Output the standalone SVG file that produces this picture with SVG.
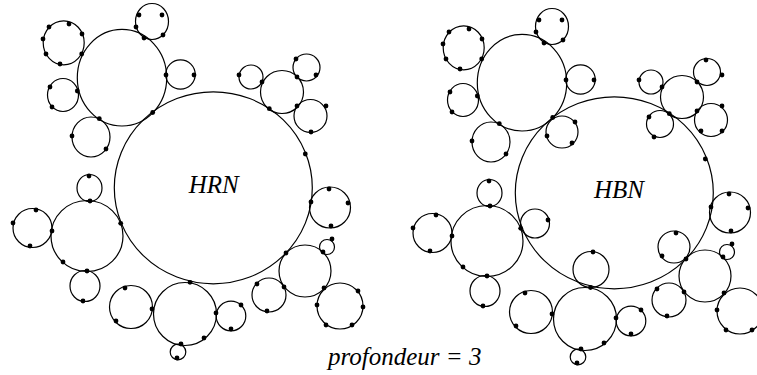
<svg xmlns="http://www.w3.org/2000/svg" width="757" height="375" viewBox="0 0 757 375">
<style>
.c{fill:none;stroke:#000;stroke-width:1.2}
.d{fill:#000}
.t{font-family:"Liberation Serif","Times New Roman",serif;font-style:italic;font-size:25px;fill:#000}
</style>
<defs><circle id="p" r="2.4" class="d"/></defs>
<rect width="757" height="375" fill="#fff"/>
<g id="hrn">
<g id="hrn-big"><ellipse class="c" cx="213.3" cy="187.8" rx="99" ry="96"/><use href="#p" x="305.3" y="154"/><text class="t" x="213.8" y="193.3" text-anchor="middle">HRN</text></g>
<g id="hrn-A"><ellipse class="c" cx="63.7" cy="42.8" rx="20.5" ry="22"/><use href="#p" x="49" y="27"/><use href="#p" x="69" y="24"/><use href="#p" x="82" y="34"/><use href="#p" x="43" y="39"/><use href="#p" x="46" y="54"/><use href="#p" x="81.7" y="54"/><use href="#p" x="60" y="64"/></g>
<g id="hrn-B"><ellipse class="c" cx="152" cy="21.5" rx="16.5" ry="18"/><use href="#p" x="139" y="15"/><use href="#p" x="162" y="15"/><use href="#p" x="136" y="27"/><use href="#p" x="163" y="35"/><use href="#p" x="144" y="38"/></g>
<g id="hrn-C"><ellipse class="c" cx="122" cy="77.7" rx="44.7" ry="48.3"/><use href="#p" x="77.3" y="91"/><use href="#p" x="99.3" y="118.7"/><use href="#p" x="152.7" y="112.5"/><use href="#p" x="166" y="75"/></g>
<g id="hrn-D"><ellipse class="c" cx="63" cy="95" rx="15.5" ry="16.5"/><use href="#p" x="50" y="87"/><use href="#p" x="52" y="107"/></g>
<g id="hrn-E"><ellipse class="c" cx="91" cy="137" rx="19" ry="20"/><use href="#p" x="72" y="136"/><use href="#p" x="106" y="149"/></g>
<g id="hrn-F"><circle class="c" cx="180.5" cy="74.5" r="14.7"/><use href="#p" x="194" y="75"/></g>
<g id="hrn-G"><circle class="c" cx="251" cy="77" r="12"/><use href="#p" x="239" y="75"/><use href="#p" x="262" y="82"/></g>
<g id="hrn-H"><circle class="c" cx="282" cy="92" r="21.5"/><use href="#p" x="269.3" y="108.7"/><use href="#p" x="297" y="77"/><use href="#p" x="297" y="106"/></g>
<g id="hrn-I"><circle class="c" cx="306.5" cy="67.5" r="13.5"/><use href="#p" x="296" y="59"/><use href="#p" x="316" y="75"/></g>
<g id="hrn-J"><circle class="c" cx="310.5" cy="116" r="16.5"/><use href="#p" x="326" y="106"/><use href="#p" x="311" y="132"/></g>
<g id="hrn-K"><circle class="c" cx="330" cy="207.5" r="20.5"/><use href="#p" x="329" y="189"/><use href="#p" x="348" y="203"/><use href="#p" x="311" y="202"/><use href="#p" x="331" y="226"/></g>
<g id="hrn-U"><circle class="c" cx="305" cy="271" r="26"/><use href="#p" x="286" y="253"/><use href="#p" x="323" y="252"/><use href="#p" x="284" y="287"/><use href="#p" x="324" y="288"/></g>
<g id="hrn-V"><circle class="c" cx="327" cy="247" r="7.5"/><use href="#p" x="332" y="239"/></g>
<g id="hrn-W"><circle class="c" cx="340" cy="306" r="23"/><use href="#p" x="358" y="291"/><use href="#p" x="317" y="305"/><use href="#p" x="363" y="307"/><use href="#p" x="326" y="325"/><use href="#p" x="352" y="325"/></g>
<g id="hrn-T"><circle class="c" cx="269" cy="295" r="17"/><use href="#p" x="257" y="284"/><use href="#p" x="267" y="311"/></g>
<g id="hrn-S"><circle class="c" cx="231" cy="316" r="14.8"/><use href="#p" x="216" y="313"/><use href="#p" x="241" y="305"/><use href="#p" x="231" y="329"/></g>
<g id="hrn-Q"><circle class="c" cx="185" cy="314" r="31.5"/><use href="#p" x="190" y="282.3"/><use href="#p" x="204" y="338"/><use href="#p" x="181" y="344"/><use href="#p" x="152" y="309"/></g>
<g id="hrn-R"><circle class="c" cx="178" cy="352" r="7.8"/><use href="#p" x="177" y="358"/></g>
<g id="hrn-P"><circle class="c" cx="131" cy="307" r="21.5"/><use href="#p" x="125" y="288"/><use href="#p" x="116" y="321"/></g>
<g id="hrn-M"><ellipse class="c" cx="87" cy="236" rx="36" ry="35.5"/><use href="#p" x="90" y="201"/><use href="#p" x="52" y="231"/><use href="#p" x="120.7" y="223.3"/><use href="#p" x="63" y="262"/><use href="#p" x="87" y="271"/></g>
<g id="hrn-L"><ellipse class="c" cx="89.5" cy="188" rx="12.5" ry="13.5"/><use href="#p" x="89" y="176"/></g>
<g id="hrn-N"><circle class="c" cx="32.5" cy="228" r="19.5"/><use href="#p" x="36" y="210"/><use href="#p" x="13" y="223"/><use href="#p" x="30" y="246"/></g>
<g id="hrn-O"><ellipse class="c" cx="85" cy="286" rx="15" ry="15.5"/><use href="#p" x="83" y="301"/></g>
</g>
<g id="hbn">
<g id="hbn-big"><ellipse class="c" cx="614.3" cy="192.8" rx="99" ry="96"/><use href="#p" x="705.3" y="159"/><text class="t" x="619" y="198.3" text-anchor="middle">HBN</text></g>
<g id="hbn-A"><ellipse class="c" cx="463.7" cy="47.8" rx="20.5" ry="22"/><use href="#p" x="449" y="32"/><use href="#p" x="469" y="29"/><use href="#p" x="482" y="39"/><use href="#p" x="443" y="44"/><use href="#p" x="446" y="59"/><use href="#p" x="481.7" y="59"/><use href="#p" x="460" y="69"/></g>
<g id="hbn-B"><ellipse class="c" cx="552" cy="26.5" rx="16.5" ry="18"/><use href="#p" x="539" y="20"/><use href="#p" x="562" y="20"/><use href="#p" x="536" y="32"/><use href="#p" x="563" y="40"/><use href="#p" x="544" y="43"/></g>
<g id="hbn-C"><ellipse class="c" cx="522" cy="82.7" rx="44.7" ry="48.3"/><use href="#p" x="477.3" y="96"/><use href="#p" x="499.3" y="123.7"/><use href="#p" x="552.7" y="117.5"/><use href="#p" x="566" y="80"/></g>
<g id="hbn-D"><ellipse class="c" cx="463" cy="100" rx="15.5" ry="16.5"/><use href="#p" x="450" y="92"/><use href="#p" x="452" y="112"/></g>
<g id="hbn-E"><ellipse class="c" cx="491" cy="142" rx="19" ry="20"/><use href="#p" x="472" y="141"/><use href="#p" x="506" y="154"/></g>
<g id="hbn-F"><circle class="c" cx="580.5" cy="79.5" r="14.7"/><use href="#p" x="594" y="80"/></g>
<g id="hbn-X"><circle class="c" cx="562" cy="132" r="16"/><use href="#p" x="575" y="122"/><use href="#p" x="547" y="136"/><use href="#p" x="572" y="143"/></g>
<g id="hbn-G"><circle class="c" cx="651" cy="82" r="12"/><use href="#p" x="639" y="80"/><use href="#p" x="662" y="87"/></g>
<g id="hbn-H"><circle class="c" cx="682" cy="97" r="21.5"/><use href="#p" x="669.3" y="113.7"/><use href="#p" x="697" y="82"/><use href="#p" x="697" y="111"/></g>
<g id="hbn-I"><circle class="c" cx="707" cy="72" r="13.5"/><use href="#p" x="706" y="60"/><use href="#p" x="722" y="75"/></g>
<g id="hbn-J"><circle class="c" cx="711" cy="120" r="16.5"/><use href="#p" x="722" y="106"/><use href="#p" x="701" y="131"/><use href="#p" x="722" y="131"/></g>
<g id="hbn-Y"><circle class="c" cx="660" cy="124" r="13.5"/><use href="#p" x="649" y="117"/><use href="#p" x="654" y="137"/></g>
<g id="hbn-K"><circle class="c" cx="730" cy="212.5" r="20.5"/><use href="#p" x="729" y="194"/><use href="#p" x="748" y="208"/><use href="#p" x="711" y="207"/><use href="#p" x="731" y="231"/></g>
<g id="hbn-BB"><circle class="c" cx="674" cy="247" r="16"/><use href="#p" x="676" y="233"/><use href="#p" x="662" y="256"/><use href="#p" x="686" y="259"/></g>
<g id="hbn-U"><circle class="c" cx="705" cy="276" r="26"/><use href="#p" x="723" y="257"/><use href="#p" x="684" y="292"/><use href="#p" x="724" y="293"/></g>
<g id="hbn-V"><circle class="c" cx="727" cy="252" r="7.5"/><use href="#p" x="732" y="244"/></g>
<g id="hbn-W"><circle class="c" cx="740" cy="311" r="23"/><use href="#p" x="717" y="310"/><use href="#p" x="726" y="330"/><use href="#p" x="752" y="330"/></g>
<g id="hbn-T"><circle class="c" cx="669" cy="300" r="17"/><use href="#p" x="657" y="289"/><use href="#p" x="667" y="316"/></g>
<g id="hbn-S"><circle class="c" cx="631" cy="321" r="14.8"/><use href="#p" x="616" y="318"/><use href="#p" x="641" y="310"/><use href="#p" x="631" y="334"/></g>
<g id="hbn-Q"><circle class="c" cx="585" cy="319" r="31.5"/><use href="#p" x="590.5" y="287.5"/><use href="#p" x="604" y="343"/><use href="#p" x="581" y="349"/><use href="#p" x="552" y="314"/></g>
<g id="hbn-R"><circle class="c" cx="578" cy="357" r="7.8"/><use href="#p" x="577" y="363"/></g>
<g id="hbn-AA"><circle class="c" cx="591" cy="269.5" r="18"/><use href="#p" x="593" y="252"/></g>
<g id="hbn-P"><circle class="c" cx="531" cy="312" r="21.5"/><use href="#p" x="525" y="293"/><use href="#p" x="516" y="326"/></g>
<g id="hbn-Z"><circle class="c" cx="535" cy="223.5" r="14.5"/><use href="#p" x="548" y="220"/></g>
<g id="hbn-M"><ellipse class="c" cx="487" cy="241" rx="36" ry="35.5"/><use href="#p" x="490" y="206"/><use href="#p" x="452" y="236"/><use href="#p" x="520.7" y="228.3"/><use href="#p" x="463" y="267"/><use href="#p" x="487" y="276"/></g>
<g id="hbn-L"><ellipse class="c" cx="489.5" cy="193" rx="12.5" ry="13.5"/><use href="#p" x="489" y="181"/></g>
<g id="hbn-N"><circle class="c" cx="432.5" cy="233" r="19.5"/><use href="#p" x="436" y="215"/><use href="#p" x="413" y="228"/><use href="#p" x="430" y="251"/></g>
<g id="hbn-O"><ellipse class="c" cx="485" cy="291" rx="15" ry="15.5"/><use href="#p" x="483" y="306"/></g>
</g>
<g id="connectors"/>
<text class="t" x="328" y="365">profondeur = 3</text>
</svg>
